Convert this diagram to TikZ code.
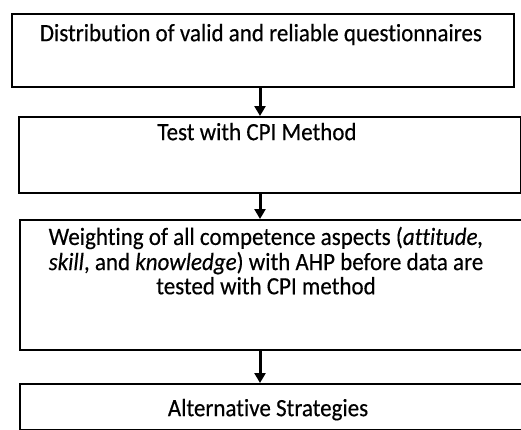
\documentclass[tikz,border=0pt]{standalone}
\usepackage{fontspec}
\setmainfont[Ligatures=NoCommon, FakeBold=0.4]{Carlito}
\usetikzlibrary{arrows.meta}
% text set slightly taller than wide, as in the printed chart
\newcommand\chartlines[1]{\scalebox{1}[1.08]{\fontsize{23}{21.5}\selectfont
  \begin{tabular}{@{}c@{}}#1\end{tabular}}}
\begin{document}
\begin{tikzpicture}[x=1pt,y=-1pt,
  box/.style={draw=black, line width=1.8pt, rectangle, inner sep=0pt, anchor=north west},
  txt/.style={inner sep=0pt, align=center},
  flow/.style={line width=3pt, -{Triangle[length=10pt,width=11pt]}}]
  \useasboundingbox (0,0) rectangle (521,429);
  % process boxes
  \node[box, minimum width=502pt, minimum height=73pt] (b1) at (11,13) {};
  \node[box, minimum width=502pt, minimum height=76pt] (b2) at (18,116) {};
  \node[box, minimum width=502pt, minimum height=130pt] (b3) at (19,219) {};
  \node[box, minimum width=502pt, minimum height=46pt] (b4) at (19,383) {};
  % box labels
  \node[txt] (t1) at (261,36) {\chartlines{Distribution of valid and reliable questionnaires}};
  \node[txt] (t2) at (257,135) {\chartlines{Test with CPI Method}};
  \node[txt] (t3) at (266,264) {\chartlines{Weighting of all competence aspects (\textit{attitude,}\\
    \textit{skill}, and \textit{knowledge}) with AHP before data are\\
    tested with CPI method}};
  \node[txt] (t4) at (268,411) {\chartlines{Alternative Strategies}};
  % connectors
  \coordinate (ax) at (260,0);
  \draw[flow] (b1.south -| ax) -- (b2.north -| ax);
  \draw[flow] (b2.south -| ax) -- (b3.north -| ax);
  \draw[flow] (b3.south -| ax) -- (b4.north -| ax);
\end{tikzpicture}
\end{document}
